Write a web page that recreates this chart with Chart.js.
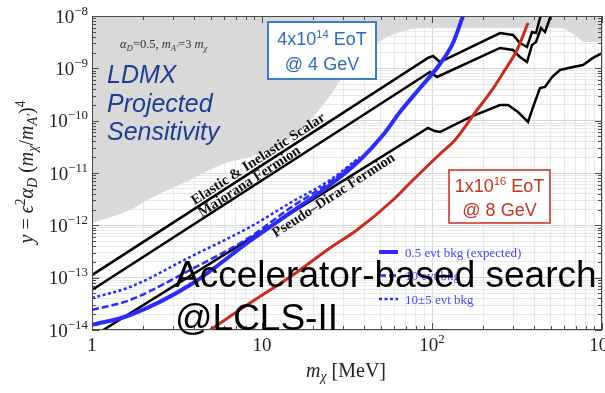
<!DOCTYPE html>
<html>
<head>
<meta charset="utf-8">
<script src="https://cdn.jsdelivr.net/npm/chart.js@4"></script>
<style>
  html, body { margin: 0; padding: 0; background: #fff; }
  canvas { display: block; }
</style>
</head>
<body>
<canvas id="chart" width="605" height="393"></canvas>
<script>
// Dark matter reach: y = eps^2 alpha_D (m_chi/m_A')^4 versus m_chi [MeV]

// excluded region (gray), lower edge
const grayMass = [1, 1.673, 2.106, 3.77, 5.9, 8.5, 13.29, 19.16, 24.1, 32.9, 47.5, 64.8, 88.5, 566, 694, 794, 1000];
const grayY = [1.11e-12, 1.96e-12, 3.05e-12, 7.35e-12, 1.49e-11, 2.02e-11, 3.74e-11, 1.03e-10, 2.48e-10, 1.06e-9, 3.05e-9, 4.94e-9, 5.9e-9, 5.9e-9, 4.34e-9, 3.18e-9, 3.18e-9];

// thermal targets
const scalarMass = [1, 94.7, 101.4, 111.4, 251.2, 299.6, 329.3, 362.2, 387.5, 409.2, 431.9, 462.2];
const scalarY = [1.12e-13, 1.58e-9, 1.72e-9, 1.32e-9, 4.73e-9, 4.33e-9, 3.05e-9, 2.56e-9, 4.94e-9, 4.73e-9, 9.16e-9, 1.42e-8];

const majoranaMass = [1, 97.3, 107.0, 251.2, 299.6, 329.3, 362.2, 387.5, 409.2, 437.8, 462.2, 494.5, 522];
const majoranaY = [5.81e-14, 8.51e-10, 6.83e-10, 2.45e-9, 2.24e-9, 1.65e-9, 1.32e-9, 2.79e-9, 3.19e-9, 5.9e-9, 4.94e-9, 9.16e-9, 1.42e-8];

const pseudoMass = [1, 94.7, 104.1, 111.4, 167.3, 251.2, 280.0, 320.6, 367.1, 392.8, 431.9, 462.2, 508.1, 566.2, 675.2, 773.2, 885.3, 1000];
const pseudoY = [7.35e-15, 7.24e-11, 6.34e-11, 6.07e-11, 1.17e-10, 1.99e-10, 1.99e-10, 1.46e-10, 9.43e-11, 1.82e-10, 4.21e-10, 4.40e-10, 6.83e-10, 9.29e-10, 1.06e-9, 1.16e-9, 1.58e-9, 1.96e-9];

// LDMX projections, 4 GeV
const bkg05Mass = [1, 1.673, 3.771, 8.5, 14.61, 25.12, 37.7, 51.5, 64.8, 85.0, 111.4, 132.9, 152.2, 158.5];
const bkg05Y = [1.25e-14, 1.93e-14, 7.24e-14, 5.02e-13, 1.72e-12, 5.9e-12, 1.77e-11, 5.32e-11, 1.46e-10, 4.21e-10, 1.21e-9, 3.05e-9, 1e-8, 1.42e-8];

const bkg10Mass = [1, 1.673, 3.771, 8.5, 14.61, 25.12, 37.7];
const bkg10Y = [2.41e-14, 3.74e-14, 1.40e-13, 5.98e-13, 2.14e-12, 6.73e-12, 1.93e-11];

const bkg10pmMass = [1, 1.673, 3.771, 8.5, 14.61, 25.12, 37.7];
const bkg10pmY = [4.08e-14, 6.63e-14, 2.48e-13, 9.29e-13, 2.67e-12, 7.35e-12, 2.02e-11];

// LDMX projection, 8 GeV
const highMass = [3.771, 4.944, 8.5, 14.61, 25.12, 36.2, 58.96, 74.2, 111.4, 136.6, 183.9, 219.4, 261.6, 316.2, 367.1];
const highY = [5.52e-15, 1e-14, 3.28e-14, 1.03e-13, 3.69e-13, 8.14e-13, 3.05e-12, 6.44e-12, 2.31e-11, 4.27e-11, 1.60e-10, 3.38e-10, 8.14e-10, 2.24e-9, 7.35e-9];

// labelled axis ticks
const xTickValues = [1, 10, 100, 1000];
const xTickLabels = [['1', ''], ['10', ''], ['10', '2'], ['10', '3']];
const yTickValues = [1e-8, 1e-9, 1e-10, 1e-11, 1e-12, 1e-13, 1e-14];
const yTickLabels = ['\u22128', '\u22129', '\u221210', '\u221211', '\u221212', '\u221213', '\u221214'];

const legendLabels = ['0.5 evt bkg (expected)', '10 evt bkg', '10\u00b15 evt bkg'];

const lineLabels = [
  { text: 'Elastic & Inelastic Scalar', x: 10, y: 1.42e-11, off: -3 },
  { text: 'Majorana Fermion', x: 8.8, y: 5.5e-12, off: -2 },
  { text: 'Pseudo\u2013Dirac Fermion', x: 24.5, y: 5.4e-12, off: 14 }
];

const SERIF = '"Liberation Serif", "DejaVu Serif", serif';
const SANS = '"Liberation Sans", Arial, sans-serif';
const BLUE = '#2b2bfb';
const RED = '#cc2b1b';

const pts = (xs, ys) => xs.map((x, i) => ({ x, y: ys[i] }));

// 1..9 x 10^n grid positions
function decadeTicks(lo, hi) {
  const out = [];
  for (let n = lo; n < hi; n++) {
    for (let k = 1; k <= 9; k++) out.push(k * Math.pow(10, n));
  }
  out.push(Math.pow(10, hi));
  return out;
}
const xGrid = decadeTicks(0, 3);
const yGrid = decadeTicks(-14, -8);

function setFont(ctx, p, size, family) {
  const sz = size * (p.s || 1);
  ctx.font = (p.b ? 'bold ' : '') + (p.i ? 'italic ' : '') + sz + 'px ' + (p.f || family);
}

function drawRich(ctx, parts, x, y, size, family, align) {
  let w = 0;
  parts.forEach(p => { setFont(ctx, p, size, family); w += ctx.measureText(p.t).width; });
  let cx = align === 'center' ? x - w / 2 : align === 'right' ? x - w : x;
  ctx.textAlign = 'left';
  ctx.textBaseline = 'alphabetic';
  parts.forEach(p => {
    setFont(ctx, p, size, family);
    ctx.fillText(p.t, cx, y + (p.dy || 0) * size);
    cx += ctx.measureText(p.t).width;
  });
}
const sup = t => ({ t, s: 0.68, dy: -0.42 });
const sub = (t, i) => ({ t, s: 0.7, dy: 0.22, i });

const overlay = {
  id: 'overlay',
  afterDatasetsDraw(chart) {
    const ctx = chart.ctx;
    const { left, right, top, bottom } = chart.chartArea;
    const xs = chart.scales.x, ys = chart.scales.y;
    ctx.save();

    // line labels along the thermal targets
    ctx.fillStyle = '#111';
    lineLabels.forEach(l => {
      ctx.save();
      ctx.translate(xs.getPixelForValue(l.x), ys.getPixelForValue(l.y));
      ctx.rotate(-33 * Math.PI / 180);
      ctx.font = 'bold 14.5px ' + SERIF;
      ctx.textAlign = 'center';
      ctx.textBaseline = 'alphabetic';
      ctx.fillText(l.text, 0, l.off);
      ctx.restore();
    });

    // parameter note
    ctx.fillStyle = '#333';
    drawRich(ctx, [{ t: '\u03b1', i: 1 }, sub('D', 1), { t: '=0.5, ' }, { t: 'm', i: 1 }, sub('A\u2032', 1),
      { t: '=3 ' }, { t: 'm', i: 1 }, sub('\u03c7', 1)], 120, 48, 12.5, SERIF, 'left');

    // LDMX title
    ctx.fillStyle = '#1b3d94';
    ctx.font = 'italic 25px ' + SANS;
    ctx.textAlign = 'left';
    ctx.fillText('LDMX', 107, 83);
    ctx.fillText('Projected', 107, 112);
    ctx.fillText('Sensitivity', 107, 140);

    // beam boxes
    ctx.fillStyle = '#fff';
    ctx.fillRect(268, 22, 108, 57);
    ctx.strokeStyle = '#3d7cc9';
    ctx.lineWidth = 2;
    ctx.strokeRect(268, 22, 108, 57);
    ctx.fillStyle = '#2e6bbd';
    drawRich(ctx, [{ t: '4x10' }, { t: '14', s: 0.62, dy: -0.38 }, { t: ' EoT' }], 322, 45, 18, SANS, 'center');
    drawRich(ctx, [{ t: '@ 4 GeV' }], 322, 70, 18, SANS, 'center');

    ctx.fillStyle = '#fff';
    ctx.fillRect(449, 170, 101, 53);
    ctx.strokeStyle = RED;
    ctx.lineWidth = 1.5;
    ctx.strokeRect(449, 170, 101, 53);
    ctx.fillStyle = '#c8321e';
    drawRich(ctx, [{ t: '1x10' }, { t: '16', s: 0.62, dy: -0.38 }, { t: ' EoT' }], 499.5, 192, 18, SANS, 'center');
    drawRich(ctx, [{ t: '@ 8 GeV' }], 499.5, 216, 18, SANS, 'center');

    // legend for the 4 GeV curves
    const legendDash = [[], [7, 3], [3, 2.5]];
    const legendWidth = [4, 2.5, 2.5];
    legendLabels.forEach((t, i) => {
      const y = 252 + i * 23.5;
      ctx.strokeStyle = BLUE;
      ctx.lineWidth = legendWidth[i];
      ctx.setLineDash(legendDash[i]);
      ctx.beginPath();
      ctx.moveTo(379, y);
      ctx.lineTo(398, y);
      ctx.stroke();
      ctx.setLineDash([]);
      ctx.fillStyle = '#4646ff';
      ctx.font = '13px ' + SERIF;
      ctx.textAlign = 'left';
      ctx.textBaseline = 'alphabetic';
      ctx.fillText(t, 405, y + 4.5);
    });

    // frame with inward ticks
    ctx.strokeStyle = '#4a4a4a';
    ctx.lineWidth = 1;
    ctx.beginPath();
    xGrid.forEach(v => {
      const px = Math.round(xs.getPixelForValue(v)) + 0.5;
      const len = xTickValues.includes(v) ? 7 : 4;
      ctx.moveTo(px, bottom); ctx.lineTo(px, bottom - len);
      ctx.moveTo(px, top); ctx.lineTo(px, top + len);
    });
    yGrid.forEach(v => {
      const py = Math.round(ys.getPixelForValue(v)) + 0.5;
      const len = yTickValues.includes(v) ? 7 : 4;
      ctx.moveTo(left, py); ctx.lineTo(left + len, py);
      ctx.moveTo(right, py); ctx.lineTo(right - len, py);
    });
    ctx.stroke();
    ctx.strokeRect(left + 0.5, top + 0.5, right - left - 1, bottom - top - 1);

    // tick labels
    ctx.fillStyle = '#222';
    yTickValues.forEach((v, i) => {
      drawRich(ctx, [{ t: '10' }, sup(yTickLabels[i])], left - 4, ys.getPixelForValue(v) + 6.5, 19, SERIF, 'right');
    });
    xTickValues.forEach((v, i) => {
      const parts = [{ t: xTickLabels[i][0] }];
      if (xTickLabels[i][1]) parts.push(sup(xTickLabels[i][1]));
      drawRich(ctx, parts, xs.getPixelForValue(v), bottom + 21, 19, SERIF, 'center');
    });

    // axis titles
    drawRich(ctx, [{ t: 'm', i: 1 }, sub('\u03c7', 1), { t: ' [MeV]' }], 346, 377, 20, SERIF, 'center');
    ctx.save();
    ctx.translate(33, 172);
    ctx.rotate(-Math.PI / 2);
    drawRich(ctx, [{ t: 'y', i: 1 }, { t: ' = ' }, { t: '\u03f5', i: 1 }, sup('2'), { t: '\u03b1', i: 1 }, sub('D', 1),
      { t: ' (' }, { t: 'm', i: 1 }, sub('\u03c7', 1), { t: '/' }, { t: 'm', i: 1 }, sub('A\u2032', 1),
      { t: ')' }, sup('4')], 0, 0, 20, SERIF, 'center');
    ctx.restore();

    // talk caption
    ctx.fillStyle = '#000';
    ctx.font = '37px ' + SANS;
    ctx.textAlign = 'left';
    ctx.fillText('Accelerator-based search', 175, 287);
    ctx.fillText('@LCLS-II', 175, 330);

    ctx.restore();
  }
};

const gridColor = ctx => (ctx.tick && ctx.tick.major ? '#d8d8d8' : '#e8e8e8');

function logAxis(min, max, grid, labelled) {
  return {
    type: 'logarithmic',
    min, max,
    afterBuildTicks: scale => {
      scale.ticks = grid.map(v => ({ value: v, major: labelled.includes(v) }));
    },
    ticks: { display: false },
    grid: { drawTicks: false, color: gridColor, lineWidth: 1 },
    border: { display: false }
  };
}

new Chart(document.getElementById('chart'), {
  type: 'line',
  data: {
    datasets: [
      { data: pts(bkg05Mass, bkg05Y), borderColor: BLUE, borderWidth: 4, order: 1, cubicInterpolationMode: 'monotone' },
      { data: pts(bkg10Mass, bkg10Y), borderColor: BLUE, borderWidth: 2.5, borderDash: [7, 3], order: 2, cubicInterpolationMode: 'monotone' },
      { data: pts(bkg10pmMass, bkg10pmY), borderColor: BLUE, borderWidth: 2.5, borderDash: [3, 2.5], order: 2, cubicInterpolationMode: 'monotone' },
      { data: pts(highMass, highY), borderColor: RED, borderWidth: 3, order: 1, cubicInterpolationMode: 'monotone' },
      { data: pts(scalarMass, scalarY), borderColor: '#000', borderWidth: 2.5, order: 3 },
      { data: pts(majoranaMass, majoranaY), borderColor: '#000', borderWidth: 2.5, order: 3 },
      { data: pts(pseudoMass, pseudoY), borderColor: '#000', borderWidth: 2.5, order: 3 },
      { data: pts(grayMass, grayY), borderColor: 'transparent', borderWidth: 0, backgroundColor: '#d9d9d9',
        fill: 'end', order: 10, cubicInterpolationMode: 'monotone' }
    ]
  },
  options: {
    responsive: false,
    animation: false,
    layout: { padding: { left: 92, top: 16, right: 3, bottom: 63 } },
    elements: { point: { radius: 0 }, line: { tension: 0 } },
    plugins: { legend: { display: false }, tooltip: { enabled: false } },
    scales: {
      x: logAxis(1, 1000, xGrid, xTickValues),
      y: logAxis(1e-14, 1e-8, yGrid, yTickValues)
    }
  },
  plugins: [overlay]
});
</script>
</body>
</html>
